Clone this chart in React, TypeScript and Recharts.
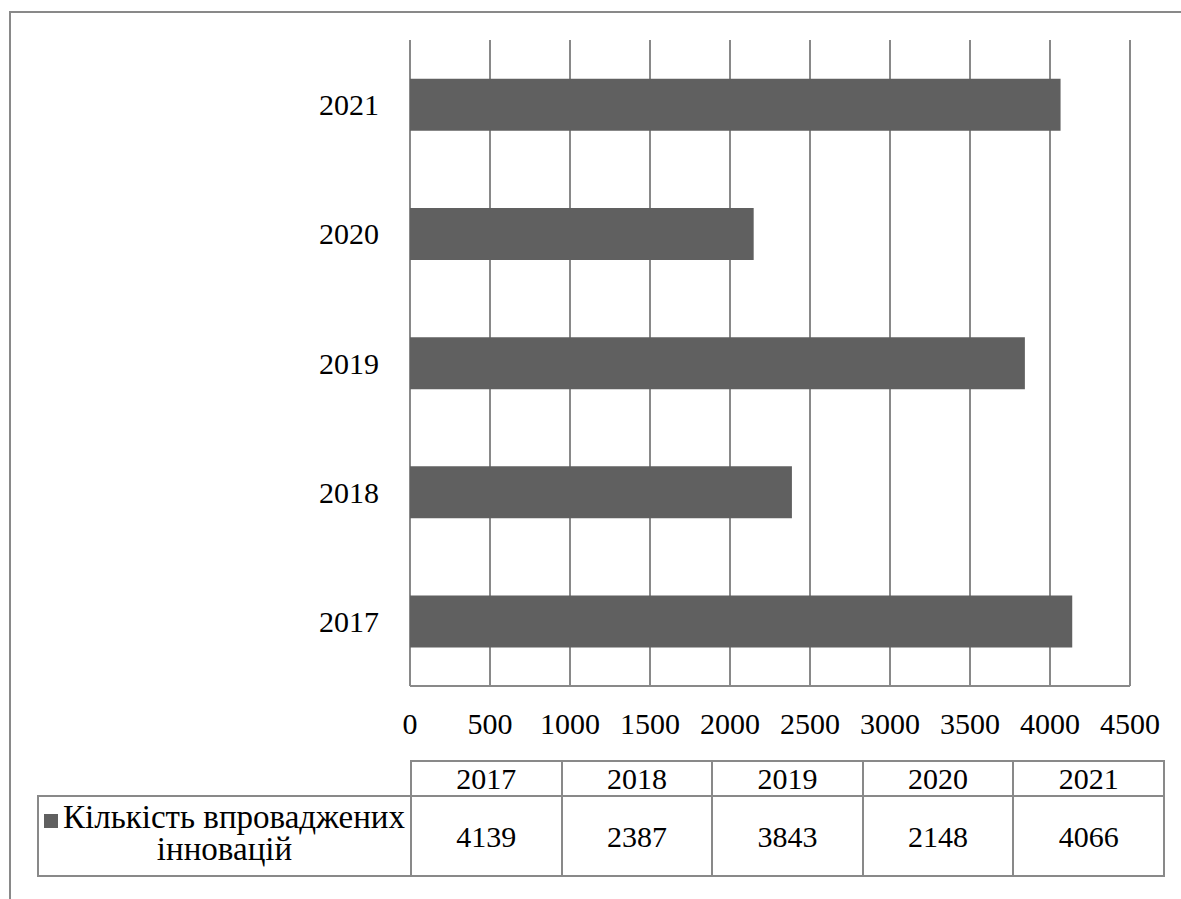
import React from 'react';
import { BarChart, Bar, XAxis, YAxis, CartesianGrid } from 'recharts';

const years = ['2017', '2018', '2019', '2020', '2021'];
const innovations = [4139, 2387, 3843, 2148, 4066];
const xTicks = [0, 500, 1000, 1500, 2000, 2500, 3000, 3500, 4000, 4500];
const seriesName = 'Кількість впроваджених інновацій';

const data = years.map((year, i) => ({ year, value: innovations[i] }));

const font = 'Liberation Serif';
const lineColor = '#898989';
const barColor = '#606060';

const cellStyle: React.CSSProperties = {
  border: `2px solid ${lineColor}`,
  padding: 0,
  textAlign: 'center',
  verticalAlign: 'middle',
  fontSize: 30,
  lineHeight: '31px',
};

const DataTable: React.FC = () => (
  <table
    style={{
      position: 'absolute',
      left: 37,
      top: 760,
      width: 1126,
      borderCollapse: 'collapse',
      tableLayout: 'fixed',
      fontFamily: font,
      color: '#000',
    }}
  >
    <colgroup>
      <col style={{ width: 373 }} />
      {years.map((y) => (
        <col key={y} style={{ width: 150.6 }} />
      ))}
    </colgroup>
    <tbody>
      <tr style={{ height: 35 }}>
        <td style={{ border: 'none', padding: 0 }} />
        {years.map((y) => (
          <td key={y} style={cellStyle}>
            {y}
          </td>
        ))}
      </tr>
      <tr style={{ height: 80 }}>
        <td
          style={{
            ...cellStyle,
            padding: '0 2px 6px 2px',
            fontSize: 33,
            lineHeight: '32px',
          }}
        >
          <span
            style={{
              display: 'inline-block',
              width: 14,
              height: 14,
              background: barColor,
              marginRight: 5,
              verticalAlign: 'baseline',
            }}
          />
          {seriesName}
        </td>
        {innovations.map((v, i) => (
          <td key={years[i]} style={cellStyle}>
            {v}
          </td>
        ))}
      </tr>
    </tbody>
  </table>
);

const App: React.FC = () => {
  return (
    <div
      style={{
        position: 'absolute',
        left: 0,
        top: 0,
        width: 1181,
        height: 899,
        overflow: 'hidden',
        background: '#fff',
        fontFamily: font,
      }}
    >
      <div
        style={{
          position: 'absolute',
          left: 9,
          top: 11,
          width: 1300,
          height: 1000,
          border: `2px solid ${lineColor}`,
        }}
      />
      <div style={{ position: 'absolute', left: 0, top: 0 }}>
        <BarChart
          width={1181}
          height={760}
          data={data}
          layout="vertical"
          margin={{ top: 40, right: 51, bottom: 14, left: 0 }}
          barCategoryGap="30%"
          style={{ fontFamily: font }}
        >
          <CartesianGrid horizontal={false} stroke={lineColor} strokeWidth={2} />
          <XAxis
            type="number"
            domain={[0, 4500]}
            ticks={xTicks}
            height={60}
            axisLine={{ stroke: lineColor, strokeWidth: 2 }}
            tickLine={false}
            tickSize={0}
            tickMargin={27}
            tick={{ fill: '#000', fontSize: 30, fontFamily: font }}
          />
          <YAxis
            type="category"
            dataKey="year"
            reversed
            width={410}
            axisLine={false}
            tickLine={false}
            tickSize={0}
            tickMargin={31}
            tick={{ fill: '#000', fontSize: 30, fontFamily: font }}
          />
          <Bar dataKey="value" name={seriesName} fill={barColor} isAnimationActive={false} />
        </BarChart>
      </div>
      <DataTable />
    </div>
  );
};

export default App;
